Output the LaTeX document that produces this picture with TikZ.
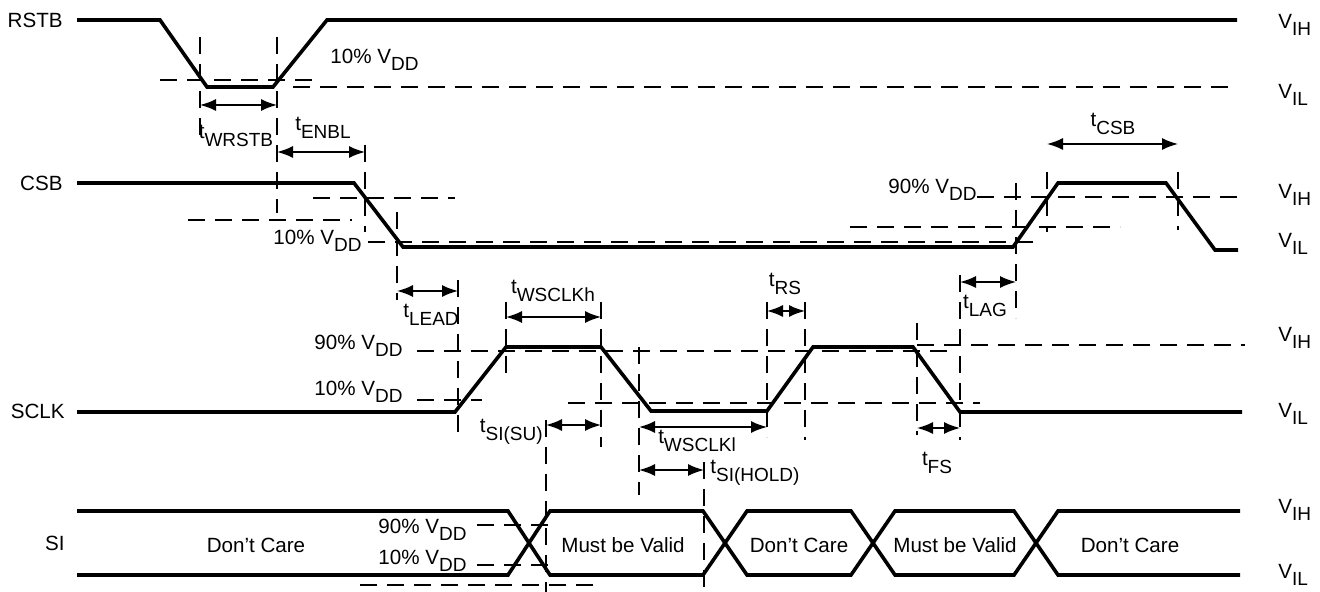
\documentclass[tikz,border=0pt]{standalone}
\usepackage{fontspec}
\setmainfont{Liberation Sans}
\usetikzlibrary{arrows.meta}
\newcommand{\sbs}[1]{\raisebox{-3.8pt}{\fontsize{9.5}{10}\selectfont #1}}

\begin{document}
\begin{tikzpicture}[x=0.5pt, y=-0.5pt,
		sig/.style={line width=1.8pt},
		guide/.style={line width=0.75pt, dash pattern=on 8.5pt off 5pt},
		dim/.style={line width=0.8pt, {Latex[length=8pt,width=6pt]}-{Latex[length=8pt,width=6pt]}},
		lbl/.style={inner sep=0pt, font=\fontsize{10.3}{12}\selectfont}]
		\useasboundingbox (0,0) rectangle (1320,592);
		
		\draw[guide] (200,37) -- (200,137) (277,37) -- (277,213) (365,145) -- (365,232)
		(397,212) -- (397,300) (458,280) -- (458,432) (506,302) -- (506,382)
		(601,302) -- (601,447) (546,420) -- (546,592) (639,347) -- (639,495)
		(704,462) -- (704,592) (767,302) -- (767,437) (805,302) -- (805,440)
		(917,323) -- (917,435) (960,275) -- (960,440) (1016,183) -- (1016,318)
		(1047,172) -- (1047,232) (1178,172) -- (1178,230);
		\draw[guide] (160,80) -- (313,80) (293,87) -- (1237,87)
		(313,198) -- (455,198) (188,220) -- (352,220) (368,242) -- (1042,242)
		(850,227) -- (1120,227) (977,197) -- (1242,197)
		(417,351) -- (950,351) (917,345) -- (1245,345)
		(417,400) -- (482,400) (568,403) -- (980,403)
		(477,525) -- (556,525) (477,565) -- (556,565) (360,585) -- (596,585);
		
		\draw[sig] (77,20) -- (160,20) -- (207,87) -- (273,87) -- (327,20) -- (1237,20);
		\draw[sig] (77,183) -- (354,183) -- (403,247) -- (1013,247) -- (1058,183) -- (1166,183) -- (1215,250) -- (1238,250);
		\draw[sig] (77,412) -- (455,412) -- (506,347) -- (601,347) -- (651,411) -- (767,411) -- (813,347) -- (913,347) -- (960,412) -- (1242,412);
		\draw[sig] (77,511) -- (508,511) -- (550,575) -- (703,575) -- (747,511) -- (851,511) -- (895,575) -- (1014,575) -- (1058,511) -- (1240,511);
		\draw[sig] (77,575) -- (508,575) -- (550,511) -- (703,511) -- (747,575) -- (851,575) -- (895,511) -- (1014,511) -- (1058,575) -- (1240,575);
		
		\draw[dim] (200,105) -- (277,105);
		\draw[dim] (277,152) -- (365,152);
		\draw[dim] (397,291) -- (458,291);
		\draw[dim] (506,317) -- (601,317);
		\draw[dim] (546,425) -- (601,425);
		\draw[dim] (639,427) -- (767,427);
		\draw[dim] (639,470) -- (704,470);
		\draw[dim] (767,311) -- (805,311);
		\draw[dim] (917,428) -- (960,428);
		\draw[dim] (960,282) -- (1016,282);
		\draw[dim] (1047,144) -- (1178,144);
		
		\node[lbl, anchor=east] (rstb) at (63,20) {RSTB};
		\node[lbl, anchor=east] (csb) at (63,183) {CSB};
		\node[lbl, anchor=east] (sclk) at (65,411) {SCLK};
		\node[lbl, anchor=east] (si) at (65,543) {SI};
		
		\node[lbl, anchor=west] (vih1) at (1278,25) {V\sbs{IH}};
		\node[lbl, anchor=west] (vil1) at (1278,95) {V\sbs{IL}};
		\node[lbl, anchor=west] (vih2) at (1278,195) {V\sbs{IH}};
		\node[lbl, anchor=west] (vil2) at (1278,244) {V\sbs{IL}};
		\node[lbl, anchor=west] (vih3) at (1278,338) {V\sbs{IH}};
		\node[lbl, anchor=west] (vil3) at (1278,414) {V\sbs{IL}};
		\node[lbl, anchor=west] (vih4) at (1278,510) {V\sbs{IH}};
		\node[lbl, anchor=west] (vil4) at (1278,575) {V\sbs{IL}};
		
		\node[lbl, anchor=west] (rstblow) at (330,60) {10\% V\sbs{DD}};
		\node[lbl, anchor=east] (csblow) at (362,241) {10\% V\sbs{DD}};
		\node[lbl, anchor=east] (csbhigh) at (977,190) {90\% V\sbs{DD}};
		\node[lbl, anchor=east] (sclkhigh) at (403,346) {90\% V\sbs{DD}};
		\node[lbl, anchor=east] (sclklow) at (403,392) {10\% V\sbs{DD}};
		\node[lbl, anchor=east] (sihigh) at (467,530) {90\% V\sbs{DD}};
		\node[lbl, anchor=east] (silow) at (467,561) {10\% V\sbs{DD}};
		
		\node[lbl] (twrstb) at (236,136) {t\sbs{WRSTB}};
		\node[lbl] (tenbl) at (323,128) {t\sbs{ENBL}};
		\node[lbl] (tlead) at (431,315) {t\sbs{LEAD}};
		\node[lbl] (twh) at (553,291) {t\sbs{WSCLKh}};
		\node[lbl, anchor=east] (tsu) at (543,432) {t\sbs{SI(SU)}};
		\node[lbl] (twl) at (697,441) {t\sbs{WSCLKl}};
		\node[lbl, anchor=west] (thold) at (710,473) {t\sbs{SI(HOLD)}};
		\node[lbl] (trs) at (785,284) {t\sbs{RS}};
		\node[lbl] (tfs) at (937,463) {t\sbs{FS}};
		\node[lbl] (tlag) at (985,306) {t\sbs{LAG}};
		\node[lbl] (tcsb) at (1113,124) {t\sbs{CSB}};
		
		\node[lbl] (dc1) at (256,545) {Don’t Care};
		\node[lbl] (mv1) at (623,545) {Must be Valid};
		\node[lbl] (dc2) at (799,545) {Don’t Care};
		\node[lbl] (mv2) at (955,545) {Must be Valid};
		\node[lbl] (dc3) at (1130,545) {Don’t Care};
		
		\end{tikzpicture}
\end{document}
